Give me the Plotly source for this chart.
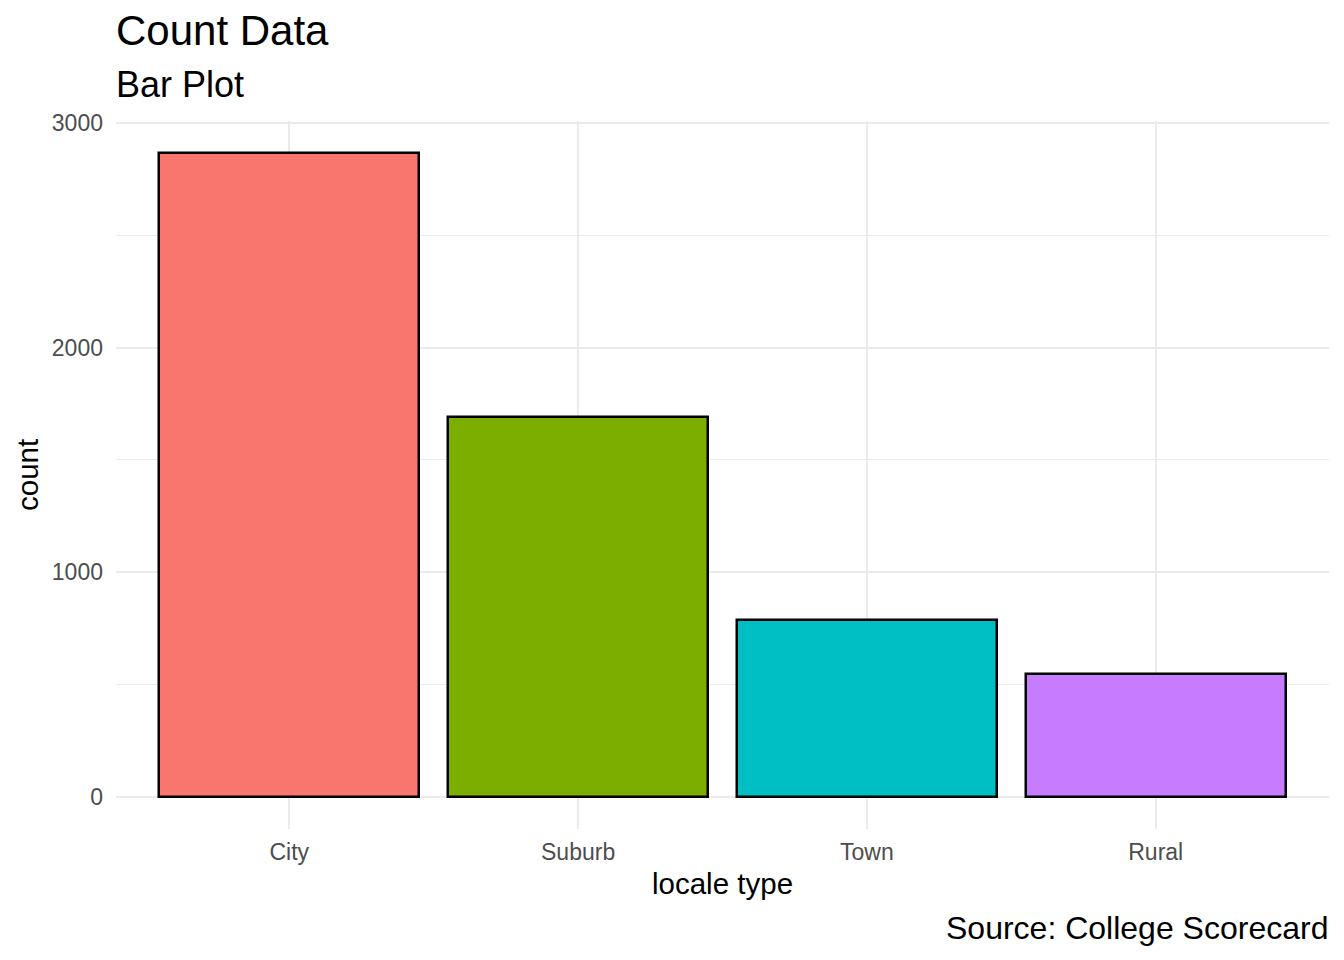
import plotly.graph_objects as go

# values (ggplot-style count bar plot)
categories = ["City", "Suburb", "Town", "Rural"]
counts = [2866, 1691, 788, 547]
bar_colors = ["#F8766D", "#7CAE00", "#00BFC4", "#C77CFF"]

OFF = 8  # page body margin in the browser
W, H = 1344 - OFF, 960 - OFF
M_L, M_R, M_T, M_B = 108, 15, 113, 131
PW = W - M_L - M_R
PH = H - M_T - M_B


def px(x):
    # page pixel -> paper fraction
    return (x - OFF - M_L) / PW


def py(y):
    return (OFF + H - M_B - y) / PH


FONT = "Liberation Sans, Arial, sans-serif"

fig = go.Figure()
fig.add_trace(go.Bar(
    x=categories, y=counts, width=0.9,
    marker=dict(color=bar_colors, line=dict(color="black", width=2.5)),
    showlegend=False,
))

ymax = max(counts)
fig.update_layout(
    width=W, height=H,
    margin=dict(l=M_L, r=M_R, t=M_T, b=M_B, autoexpand=False),
    paper_bgcolor="white", plot_bgcolor="white",
    font=dict(family=FONT, color="black"),
    bargap=0,
    xaxis=dict(
        range=[-0.6, 3.6], showgrid=True, gridcolor="#EBEBEB", gridwidth=2,
        zeroline=False, showline=False, ticks="",
        tickfont=dict(size=23, color="#4D4D4D"), ticklabelstandoff=7,
    ),
    yaxis=dict(
        range=[-0.05 * ymax, 1.05 * ymax], tickvals=[0, 1000, 2000, 3000],
        showgrid=True, gridcolor="#EBEBEB", gridwidth=2,
        minor=dict(tickvals=[500, 1500, 2500], showgrid=True, gridcolor="#EBEBEB", gridwidth=1),
        zeroline=False, showline=False, ticks="",
        tickfont=dict(size=23, color="#4D4D4D"), ticklabelstandoff=12,
    ),
)

annots = [
    dict(text="Count Data", x=px(114), y=py(31), xanchor="left", yanchor="middle", size=42),
    dict(text="Bar Plot", x=px(114), y=py(84), xanchor="left", yanchor="middle", size=36),
    dict(text="locale type", x=0.5, y=py(883), xanchor="center", yanchor="middle", size=29.5),
    dict(text="Source: College Scorecard", x=px(1330), y=py(928), xanchor="right", yanchor="middle", size=32),
]
for a in annots:
    fig.add_annotation(text=a["text"], x=a["x"], y=a["y"], xref="paper", yref="paper",
                       xanchor=a["xanchor"], yanchor=a["yanchor"], showarrow=False,
                       font=dict(size=a["size"], color="black", family=FONT))
fig.add_annotation(text="count", x=px(27), y=0.5, xref="paper", yref="paper", textangle=-90,
                   xanchor="center", yanchor="middle", showarrow=False,
                   font=dict(size=29.5, color="black", family=FONT))

fig.write_html("out.html")
